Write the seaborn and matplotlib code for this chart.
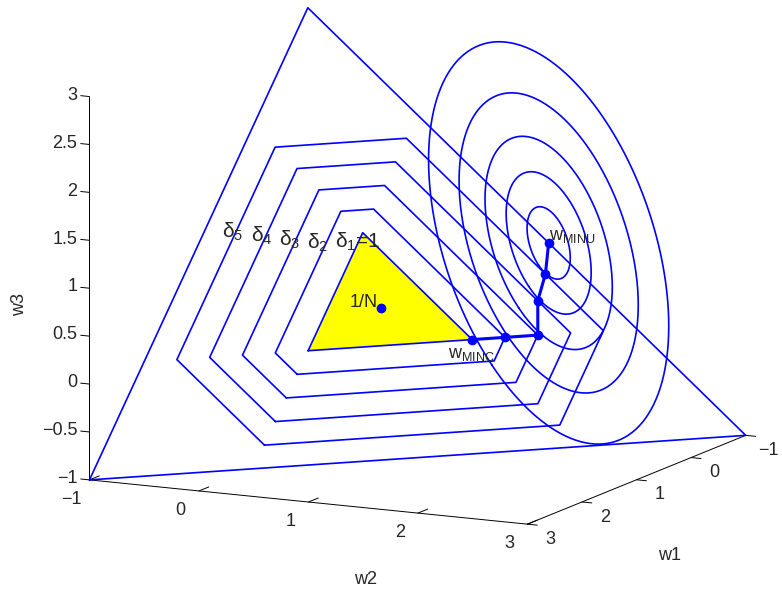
import numpy as np
import matplotlib
matplotlib.use("Agg")
import matplotlib.pyplot as plt
import seaborn as sns
from mpl_toolkits.mplot3d.art3d import Poly3DCollection

# ticks (same range on all three axes)
ticks_w = [-1, 0, 1, 2, 3]
ticks_w3 = [-1, -0.5, 0, 0.5, 1, 1.5, 2, 2.5, 3]

# corners of the budget plane w1+w2+w3 = 1 inside the box
plane_w1 = [3, -1, -1]
plane_w2 = [-1, 3, -1]
plane_w3 = [-1, -1, 3]

# gross exposure levels (delta_1 = 1 is the simplex)
deltas = [1.0, 1.4, 1.8, 2.2, 2.6]
delta_labels = [r"$\mathregular{δ_1}$=1", r"$\mathregular{δ_2}$", r"$\mathregular{δ_3}$",
                r"$\mathregular{δ_4}$", r"$\mathregular{δ_5}$"]
label_w1 = [0.208, 0.375, 0.518, 0.655, 0.797]
label_w2 = [-0.145, -0.319, -0.505, -0.694, -0.889]
label_w3 = [0.937, 0.945, 0.988, 1.040, 1.092]

# path from w_MINC to w_MINU
path_w1 = [0.0, -0.2, -0.4, -0.6, -0.8, -1.0]
path_w2 = [1.0, 1.2, 1.4, 1.3, 1.27, 1.2]
path_w3 = [0.0, 0.0, 0.0, 0.3, 0.53, 0.8]

# equally weighted portfolio
eq_w = [1 / 3, 1 / 3, 1 / 3]

# variance contours around w_MINU (quadratic form in w1, w2)
q11, q12, q22 = 0.93, -0.27, 0.86
radii = [0.18, 0.354, 0.53, 0.746, 1.0]

sns.set_style("white")
plt.rcParams["font.family"] = ["Liberation Sans", "DejaVu Sans"]
plt.rcParams["mathtext.fontset"] = "custom"
plt.rcParams["mathtext.rm"] = "Liberation Sans"
plt.rcParams["mathtext.it"] = "Liberation Sans"
blue = (0, 0, 1)

W, H = 782, 596
fig = plt.figure(figsize=(W / 100, H / 100), dpi=100)
ax = fig.add_subplot(projection="3d", computed_zorder=False)
ax.set_position([0.0205, -0.12, 1, W / H])
ax.set_proj_type("ortho")
ax.view_init(elev=11.7, azim=26.5)
ax.set_box_aspect((1, 1, 0.8), zoom=0.987)
ax.set_xlim(-1, 3)
ax.set_ylim(-1, 3)
ax.set_zlim(-1, 3)
ax.set_xticks([])
ax.set_yticks([])
ax.set_zticks([])
ax.set_axis_off()

# simplex (yellow)
simplex = [[(1, 0, 0), (0, 1, 0), (0, 0, 1)]]
ax.add_collection3d(Poly3DCollection(simplex, facecolor="yellow", edgecolor="none", zorder=1))

# big triangle
ax.plot(plane_w1 + plane_w1[:1], plane_w2 + plane_w2[:1], plane_w3 + plane_w3[:1],
        color=blue, lw=1.2, zorder=2)

# hexagons
for d in deltas:
    a, b = (1 + d) / 2, (d - 1) / 2
    verts = [(a, 0, -b), (a, -b, 0), (0, -b, a), (-b, 0, a), (-b, a, 0), (0, a, -b), (a, 0, -b)]
    v = np.array(verts)
    ax.plot(v[:, 0], v[:, 1], v[:, 2], color=blue, lw=1.2, zorder=2)

# ellipses
Q = np.array([[q11, q12], [q12, q22]])
L = np.linalg.cholesky(Q)
t = np.linspace(0, 2 * np.pi, 300)
circ = np.vstack([np.cos(t), np.sin(t)])
base = np.linalg.solve(L.T, circ)
for r in radii:
    e1 = path_w1[-1] + r * base[0]
    e2 = path_w2[-1] + r * base[1]
    ax.plot(e1, e2, 1 - e1 - e2, color=blue, lw=1.2, zorder=2)

# path
ax.plot(path_w1, path_w2, path_w3, color=blue, lw=2.2, marker="o", ms=6, zorder=3)
ax.plot(*[[c] for c in eq_w], color=blue, marker="o", ms=6, zorder=3)

fs = 13
ax.text(0.321, 0.300, 0.379, "1/N", ha="right", va="center", fontsize=fs, zorder=4)
ax.text(-1.038, 1.181, 0.857, r"$\mathregular{w_{MINU}}$",
        ha="left", va="center", fontsize=fs, zorder=4)
ax.text(0.223, 0.893, -0.116, r"$\mathregular{w_{MINC}}$", ha="left", va="center", fontsize=fs, zorder=4)
for lab, x, y, z in zip(delta_labels, label_w1, label_w2, label_w3):
    ax.text(x, y, z, lab, ha="left", va="center", fontsize=15, zorder=4)

# axis lines along the box edges
k = dict(color="black", lw=0.7, zorder=0)
ax.plot([3, 3], [-1, -1], [-1, 3], **k)
ax.plot([3, 3], [-1, 3], [-1, -1], **k)
ax.plot([3, -1], [3, 3], [-1, -1], **k)


def fmt(v):
    return f"{v:g}".replace("-", "\u2212")


# ticks and their labels
for v in ticks_w:
    ax.plot([v, v], [3, 3.09], [-1, -1], **k)
    ax.text(v, 3.211, -1.133, fmt(v), ha="center", va="center", fontsize=fs)
    ax.plot([3, 2.82], [v, v], [-1, -1], **k)
    ax.text(3.333, v, -1.123, fmt(v), ha="center", va="center", fontsize=fs)
for v in ticks_w3:
    ax.plot([3, 3], [-1, -1.08], [v, v], **k)
    ax.text(3, -1.11, v, fmt(v), ha="right", va="center", fontsize=fs)

# axis titles
fig.text(670 / W, 1 - 556 / H, "w1", ha="center", va="center", fontsize=fs)
fig.text(366 / W, 1 - 580 / H, "w2", ha="center", va="center", fontsize=fs)
fig.text(20 / W, 1 - 305 / H, "w3", ha="center", va="center", rotation=90, fontsize=fs)

fig.savefig("out.png", dpi=100)
